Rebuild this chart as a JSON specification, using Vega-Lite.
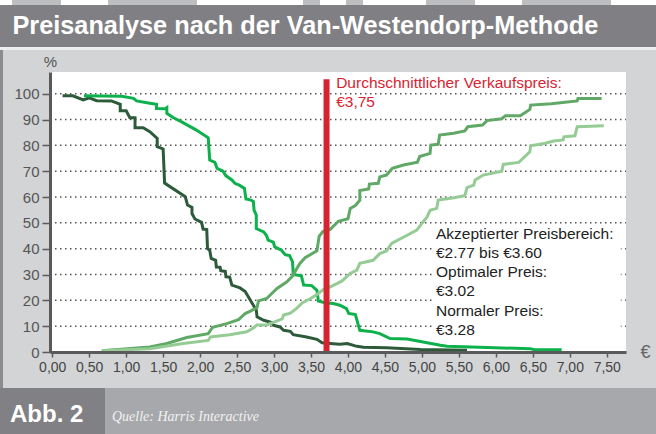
{
  "$schema": "https://vega.github.io/schema/vega-lite/v6.json",
  "padding": 0,
  "background": "white",
  "spacing": 0,
  "config": {
    "view": {"stroke": null},
    "font": "Liberation Sans",
    "concat": {"spacing": 0},
    "axis": {"labelFont": "Liberation Sans", "titleFont": "Liberation Sans"}
  },
  "data": {"values": [{}]},
  "datasets": {
    "curves": [
      {"s":"A","i":0,"x":0.14,"y":99.2},{"s":"A","i":1,"x":0.28,"y":99.2},{"s":"A","i":2,"x":0.42,"y":97.6},{"s":"A","i":3,"x":0.50,"y":98.4},{"s":"A","i":4,"x":0.60,"y":97.3},{"s":"A","i":5,"x":0.80,"y":97.2},{"s":"A","i":6,"x":0.92,"y":95.9},{"s":"A","i":7,"x":0.92,"y":93.4},{"s":"A","i":8,"x":1.00,"y":93.4},{"s":"A","i":9,"x":1.05,"y":90.7},{"s":"A","i":10,"x":1.12,"y":90.7},{"s":"A","i":11,"x":1.12,"y":86.8},{"s":"A","i":12,"x":1.23,"y":86.8},{"s":"A","i":13,"x":1.32,"y":85.3},{"s":"A","i":14,"x":1.42,"y":82.7},{"s":"A","i":15,"x":1.42,"y":79.5},{"s":"A","i":16,"x":1.50,"y":78.6},{"s":"A","i":17,"x":1.52,"y":65.4},{"s":"A","i":18,"x":1.80,"y":60.1},{"s":"A","i":19,"x":1.83,"y":56.9},{"s":"A","i":20,"x":1.89,"y":56.0},{"s":"A","i":21,"x":1.89,"y":53.6},{"s":"A","i":22,"x":1.93,"y":51.5},{"s":"A","i":23,"x":2.02,"y":50.2},{"s":"A","i":24,"x":2.04,"y":47.6},{"s":"A","i":25,"x":2.09,"y":47.4},{"s":"A","i":26,"x":2.10,"y":40.1},{"s":"A","i":27,"x":2.13,"y":39.4},{"s":"A","i":28,"x":2.15,"y":36.2},{"s":"A","i":29,"x":2.21,"y":35.5},{"s":"A","i":30,"x":2.22,"y":32.9},{"s":"A","i":31,"x":2.27,"y":32.8},{"s":"A","i":32,"x":2.28,"y":31.5},{"s":"A","i":33,"x":2.34,"y":31.2},{"s":"A","i":34,"x":2.35,"y":29.1},{"s":"A","i":35,"x":2.40,"y":29.0},{"s":"A","i":36,"x":2.43,"y":25.9},{"s":"A","i":37,"x":2.47,"y":25.5},{"s":"A","i":38,"x":2.54,"y":24.8},{"s":"A","i":39,"x":2.61,"y":23.4},{"s":"A","i":40,"x":2.68,"y":20.0},{"s":"A","i":41,"x":2.72,"y":18.1},{"s":"A","i":42,"x":2.76,"y":16.2},{"s":"A","i":43,"x":2.77,"y":13.6},{"s":"A","i":44,"x":2.86,"y":12.3},{"s":"A","i":45,"x":2.97,"y":11.4},{"s":"A","i":46,"x":2.99,"y":10.4},{"s":"A","i":47,"x":3.08,"y":9.7},{"s":"A","i":48,"x":3.13,"y":8.4},{"s":"A","i":49,"x":3.22,"y":8.0},{"s":"A","i":50,"x":3.26,"y":6.7},{"s":"A","i":51,"x":3.44,"y":5.8},{"s":"A","i":52,"x":3.58,"y":4.9},{"s":"A","i":53,"x":3.65,"y":3.6},{"s":"A","i":54,"x":3.76,"y":3.3},{"s":"A","i":55,"x":3.89,"y":3.0},{"s":"A","i":56,"x":3.99,"y":3.3},{"s":"A","i":57,"x":4.12,"y":2.2},{"s":"A","i":58,"x":4.21,"y":1.8},{"s":"A","i":59,"x":4.52,"y":1.6},{"s":"A","i":60,"x":4.98,"y":1.0},{"s":"A","i":61,"x":5.61,"y":0.7},
      {"s":"B","i":0,"x":0.43,"y":99.2},{"s":"B","i":1,"x":0.94,"y":99.0},{"s":"B","i":2,"x":1.10,"y":98.2},{"s":"B","i":3,"x":1.14,"y":97.2},{"s":"B","i":4,"x":1.32,"y":96.3},{"s":"B","i":5,"x":1.41,"y":95.9},{"s":"B","i":6,"x":1.41,"y":94.3},{"s":"B","i":7,"x":1.53,"y":94.2},{"s":"B","i":8,"x":1.55,"y":94.6},{"s":"B","i":9,"x":1.55,"y":92.4},{"s":"B","i":10,"x":1.64,"y":90.7},{"s":"B","i":11,"x":1.75,"y":89.1},{"s":"B","i":12,"x":1.95,"y":85.9},{"s":"B","i":13,"x":2.11,"y":82.9},{"s":"B","i":14,"x":2.13,"y":74.3},{"s":"B","i":15,"x":2.20,"y":73.4},{"s":"B","i":16,"x":2.23,"y":71.1},{"s":"B","i":17,"x":2.31,"y":70.0},{"s":"B","i":18,"x":2.35,"y":68.2},{"s":"B","i":19,"x":2.43,"y":66.6},{"s":"B","i":20,"x":2.47,"y":65.3},{"s":"B","i":21,"x":2.53,"y":64.6},{"s":"B","i":22,"x":2.60,"y":63.3},{"s":"B","i":23,"x":2.62,"y":59.2},{"s":"B","i":24,"x":2.68,"y":58.9},{"s":"B","i":25,"x":2.72,"y":58.3},{"s":"B","i":26,"x":2.73,"y":54.9},{"s":"B","i":27,"x":2.76,"y":53.0},{"s":"B","i":28,"x":2.76,"y":47.8},{"s":"B","i":29,"x":2.86,"y":46.5},{"s":"B","i":30,"x":2.90,"y":45.0},{"s":"B","i":31,"x":2.92,"y":43.3},{"s":"B","i":32,"x":2.99,"y":42.5},{"s":"B","i":33,"x":3.01,"y":40.7},{"s":"B","i":34,"x":3.10,"y":39.4},{"s":"B","i":35,"x":3.15,"y":37.7},{"s":"B","i":36,"x":3.21,"y":37.3},{"s":"B","i":37,"x":3.25,"y":34.9},{"s":"B","i":38,"x":3.26,"y":30.0},{"s":"B","i":39,"x":3.37,"y":29.5},{"s":"B","i":40,"x":3.40,"y":25.9},{"s":"B","i":41,"x":3.51,"y":25.7},{"s":"B","i":42,"x":3.58,"y":23.9},{"s":"B","i":43,"x":3.60,"y":19.7},{"s":"B","i":44,"x":3.69,"y":19.1},{"s":"B","i":45,"x":3.80,"y":18.8},{"s":"B","i":46,"x":3.89,"y":18.1},{"s":"B","i":47,"x":3.98,"y":16.8},{"s":"B","i":48,"x":4.01,"y":14.9},{"s":"B","i":49,"x":4.10,"y":14.5},{"s":"B","i":50,"x":4.16,"y":8.4},{"s":"B","i":51,"x":4.34,"y":7.8},{"s":"B","i":52,"x":4.43,"y":7.1},{"s":"B","i":53,"x":4.57,"y":5.2},{"s":"B","i":54,"x":4.80,"y":5.0},{"s":"B","i":55,"x":4.98,"y":4.1},{"s":"B","i":56,"x":5.25,"y":2.6},{"s":"B","i":57,"x":5.34,"y":2.2},{"s":"B","i":58,"x":5.88,"y":1.7},{"s":"B","i":59,"x":6.46,"y":1.3},{"s":"B","i":60,"x":6.51,"y":1.0},{"s":"B","i":61,"x":6.89,"y":0.9},
      {"s":"C","i":0,"x":0.67,"y":0.5},{"s":"C","i":1,"x":1.32,"y":1.9},{"s":"C","i":2,"x":1.55,"y":3.3},{"s":"C","i":3,"x":1.82,"y":5.6},{"s":"C","i":4,"x":2.11,"y":7.1},{"s":"C","i":5,"x":2.17,"y":9.6},{"s":"C","i":6,"x":2.36,"y":11.0},{"s":"C","i":7,"x":2.52,"y":12.5},{"s":"C","i":8,"x":2.61,"y":14.9},{"s":"C","i":9,"x":2.68,"y":15.8},{"s":"C","i":10,"x":2.77,"y":17.2},{"s":"C","i":11,"x":2.79,"y":19.8},{"s":"C","i":12,"x":2.90,"y":20.7},{"s":"C","i":13,"x":3.04,"y":24.6},{"s":"C","i":14,"x":3.17,"y":27.1},{"s":"C","i":15,"x":3.26,"y":29.7},{"s":"C","i":16,"x":3.28,"y":31.0},{"s":"C","i":17,"x":3.35,"y":34.3},{"s":"C","i":18,"x":3.42,"y":36.5},{"s":"C","i":19,"x":3.58,"y":39.2},{"s":"C","i":20,"x":3.61,"y":44.8},{"s":"C","i":21,"x":3.66,"y":46.6},{"s":"C","i":22,"x":3.76,"y":47.5},{"s":"C","i":23,"x":3.87,"y":50.6},{"s":"C","i":24,"x":4.00,"y":51.6},{"s":"C","i":25,"x":4.03,"y":55.6},{"s":"C","i":26,"x":4.10,"y":56.7},{"s":"C","i":27,"x":4.16,"y":58.8},{"s":"C","i":28,"x":4.16,"y":62.5},{"s":"C","i":29,"x":4.28,"y":63.1},{"s":"C","i":30,"x":4.29,"y":65.0},{"s":"C","i":31,"x":4.41,"y":65.3},{"s":"C","i":32,"x":4.43,"y":67.8},{"s":"C","i":33,"x":4.52,"y":68.5},{"s":"C","i":34,"x":4.60,"y":71.1},{"s":"C","i":35,"x":4.75,"y":72.4},{"s":"C","i":36,"x":4.94,"y":73.5},{"s":"C","i":37,"x":4.97,"y":75.7},{"s":"C","i":38,"x":5.11,"y":76.9},{"s":"C","i":39,"x":5.12,"y":80.1},{"s":"C","i":40,"x":5.22,"y":80.4},{"s":"C","i":41,"x":5.24,"y":84.0},{"s":"C","i":42,"x":5.43,"y":84.7},{"s":"C","i":43,"x":5.58,"y":85.6},{"s":"C","i":44,"x":5.62,"y":87.2},{"s":"C","i":45,"x":5.82,"y":87.9},{"s":"C","i":46,"x":5.88,"y":89.6},{"s":"C","i":47,"x":6.08,"y":90.3},{"s":"C","i":48,"x":6.13,"y":91.5},{"s":"C","i":49,"x":6.33,"y":91.5},{"s":"C","i":50,"x":6.46,"y":93.9},{"s":"C","i":51,"x":6.47,"y":95.6},{"s":"C","i":52,"x":6.75,"y":96.1},{"s":"C","i":53,"x":7.10,"y":97.2},{"s":"C","i":54,"x":7.11,"y":98.1},{"s":"C","i":55,"x":7.43,"y":98.1},
      {"s":"D","i":0,"x":0.67,"y":0.5},{"s":"D","i":1,"x":1.32,"y":1.3},{"s":"D","i":2,"x":1.77,"y":3.3},{"s":"D","i":3,"x":2.11,"y":4.5},{"s":"D","i":4,"x":2.14,"y":5.8},{"s":"D","i":5,"x":2.40,"y":6.7},{"s":"D","i":6,"x":2.63,"y":7.8},{"s":"D","i":7,"x":2.72,"y":9.3},{"s":"D","i":8,"x":2.77,"y":10.5},{"s":"D","i":9,"x":2.90,"y":10.5},{"s":"D","i":10,"x":2.99,"y":11.5},{"s":"D","i":11,"x":3.11,"y":12.8},{"s":"D","i":12,"x":3.13,"y":14.3},{"s":"D","i":13,"x":3.22,"y":15.0},{"s":"D","i":14,"x":3.31,"y":17.0},{"s":"D","i":15,"x":3.38,"y":19.0},{"s":"D","i":16,"x":3.50,"y":20.8},{"s":"D","i":17,"x":3.60,"y":22.6},{"s":"D","i":18,"x":3.67,"y":24.3},{"s":"D","i":19,"x":3.76,"y":25.2},{"s":"D","i":20,"x":3.85,"y":26.5},{"s":"D","i":21,"x":3.92,"y":27.5},{"s":"D","i":22,"x":4.03,"y":30.4},{"s":"D","i":23,"x":4.12,"y":31.7},{"s":"D","i":24,"x":4.16,"y":34.3},{"s":"D","i":25,"x":4.34,"y":35.5},{"s":"D","i":26,"x":4.43,"y":38.1},{"s":"D","i":27,"x":4.52,"y":39.1},{"s":"D","i":28,"x":4.59,"y":42.0},{"s":"D","i":29,"x":4.80,"y":45.2},{"s":"D","i":30,"x":4.93,"y":47.2},{"s":"D","i":31,"x":5.00,"y":49.8},{"s":"D","i":32,"x":5.07,"y":52.3},{"s":"D","i":33,"x":5.11,"y":54.9},{"s":"D","i":34,"x":5.20,"y":55.6},{"s":"D","i":35,"x":5.22,"y":58.8},{"s":"D","i":36,"x":5.43,"y":59.7},{"s":"D","i":37,"x":5.58,"y":60.5},{"s":"D","i":38,"x":5.61,"y":63.6},{"s":"D","i":39,"x":5.70,"y":64.6},{"s":"D","i":40,"x":5.72,"y":66.6},{"s":"D","i":41,"x":5.83,"y":68.5},{"s":"D","i":42,"x":6.08,"y":70.0},{"s":"D","i":43,"x":6.10,"y":72.6},{"s":"D","i":44,"x":6.31,"y":73.4},{"s":"D","i":45,"x":6.46,"y":77.5},{"s":"D","i":46,"x":6.47,"y":79.8},{"s":"D","i":47,"x":6.67,"y":80.8},{"s":"D","i":48,"x":6.78,"y":81.7},{"s":"D","i":49,"x":6.91,"y":82.1},{"s":"D","i":50,"x":6.92,"y":83.3},{"s":"D","i":51,"x":7.07,"y":83.7},{"s":"D","i":52,"x":7.10,"y":87.2},{"s":"D","i":53,"x":7.46,"y":87.6}
    ]
  },
  "vconcat": [
    {
      "hconcat": [
        {"width": 12, "height": 5, "mark": {"type": "rect", "color": "white"}},
        {"width": 49, "height": 5, "mark": {"type": "rect", "color": "#bdbec0"}},
        {"width": 47, "height": 5, "mark": {"type": "rect", "color": "white"}},
        {"width": 89, "height": 5, "mark": {"type": "rect", "color": "#bdbec0"}},
        {"width": 106, "height": 5, "mark": {"type": "rect", "color": "white"}},
        {"width": 17, "height": 5, "mark": {"type": "rect", "color": "#bdbec0"}},
        {"width": 26, "height": 5, "mark": {"type": "rect", "color": "white"}},
        {"width": 17, "height": 5, "mark": {"type": "rect", "color": "#bdbec0"}},
        {"width": 63, "height": 5, "mark": {"type": "rect", "color": "white"}},
        {"width": 49, "height": 5, "mark": {"type": "rect", "color": "#bdbec0"}},
        {"width": 47, "height": 5, "mark": {"type": "rect", "color": "white"}},
        {"width": 89, "height": 5, "mark": {"type": "rect", "color": "#bdbec0"}},
        {"width": 45, "height": 5, "mark": {"type": "rect", "color": "white"}}
      ],
      "spacing": 0
    },
    {
      "width": 656,
      "height": 42,
      "view": {"fill": "#808084", "stroke": null},
      "data": {"values": [{"t": "Preisanalyse nach der Van-Westendorp-Methode"}]},
      "mark": {"type": "text", "align": "left", "baseline": "alphabetic", "fontSize": 25.3, "fontWeight": "bold", "color": "white", "font": "Liberation Sans"},
      "encoding": {
        "text": {"field": "t"},
        "x": {"datum": 0.019, "type": "quantitative", "scale": {"domain": [0, 1]}, "axis": null},
        "y": {"datum": 0.31, "type": "quantitative", "scale": {"domain": [0, 1]}, "axis": null}
      }
    },
    {"width": 656, "height": 3, "mark": {"type": "rect", "color": "#eeeeef"}},
    {
      "hconcat": [
        {"width": 3, "height": 338, "mark": {"type": "rect", "color": "#8b8c8f"}},
        {
          "width": 653,
          "height": 338,
          "view": {"fill": "#d3d4d6", "stroke": null},
          "layer": [
            {
              "mark": {"type": "rect", "color": "white"},
              "encoding": {
                "x": {
                  "datum": -0.03, "type": "quantitative",
                  "scale": {"domain": [-0.03, 7.76], "range": [47, 623], "nice": false, "zero": false}
                },
                "x2": {"datum": 7.76},
                "y": {
                  "datum": 0, "type": "quantitative",
                  "scale": {"domain": [0, 108.4], "range": [302, 22], "nice": false, "zero": false}
                },
                "y2": {"datum": 108.4}
              }
            },
            {
              "data": {"values": [{"g": 10}, {"g": 20}, {"g": 30}, {"g": 40}, {"g": 50}, {"g": 60}, {"g": 70}, {"g": 80}, {"g": 90}, {"g": 100}]},
              "mark": {"type": "rule", "color": "#555", "strokeWidth": 1.5, "strokeDash": [1.5, 3.5]},
              "encoding": {
                "y": {"field": "g", "type": "quantitative"},
                "x": {"datum": -0.03, "type": "quantitative"},
                "x2": {"datum": 7.76}
              }
            },
            {
              "mark": {"type": "rect", "color": "white"},
              "encoding": {
                "x": {"datum": 5.14, "type": "quantitative"},
                "x2": {"datum": 7.69},
                "y": {"datum": 3.4, "type": "quantitative"},
                "y2": {"datum": 47.5}
              }
            },
            {
              "data": {"name": "curves"},
              "mark": {"type": "line", "strokeWidth": 3, "strokeJoin": "miter"},
              "encoding": {
                "x": {
                  "field": "x", "type": "quantitative",
                  "axis": {
                    "orient": "bottom", "offset": -36, "zindex": 1,
                    "values": [0, 0.5, 1, 1.5, 2, 2.5, 3, 3.5, 4, 4.5, 5, 5.5, 6, 6.5, 7, 7.5],
                    "tickCount": 16,
                    "labelExpr": "replace(format(datum.value, '.2f'), '.', ',')",
                    "labelFontSize": 14, "labelColor": "#444", "labelPadding": 3, "labelFlush": false, "labelOverlap": false,
                    "domainColor": "#5a5a5a", "domainWidth": 3,
                    "tickColor": "#5a5a5a", "tickWidth": 1.5, "tickSize": 5,
                    "grid": false,
                    "title": "€", "titleX": 642, "titleY": 0, "titleAlign": "center", "titleBaseline": "middle",
                    "titleFontSize": 18, "titleFontWeight": "normal", "titleColor": "#666"
                  }
                },
                "y": {
                  "field": "y", "type": "quantitative",
                  "axis": {
                    "orient": "left", "offset": -47, "zindex": 1,
                    "values": [0, 10, 20, 30, 40, 50, 60, 70, 80, 90, 100],
                    "tickCount": 11,
                    "labelFontSize": 15, "labelColor": "#555", "labelPadding": 3, "labelOverlap": false, "labelFlush": false,
                    "domainColor": "#5a5a5a", "domainWidth": 3,
                    "tickColor": "#5a5a5a", "tickWidth": 1.5, "tickSize": 8,
                    "grid": false,
                    "title": "%", "titleAngle": 0, "titleX": 0, "titleY": 16, "titleAlign": "center", "titleBaseline": "alphabetic",
                    "titleFontSize": 15, "titleFontWeight": "normal", "titleColor": "#555"
                  }
                },
                "color": {"field": "s", "type": "nominal", "legend": null,
                  "scale": {"domain": ["A", "B", "C", "D"], "range": ["#2d5b39", "#0db14b", "#5fa865", "#95cb95"]}},
                "order": {"field": "i", "type": "quantitative"}
              }
            },
            {
              "mark": {"type": "rule", "color": "#d7232f", "strokeWidth": 6},
              "encoding": {
                "x": {"datum": 3.71, "type": "quantitative"},
                "y": {"datum": 0, "type": "quantitative"},
                "y2": {"datum": 105.6}
              }
            },
            {
              "data": {"values": [{"label": "Durchschnittlicher Verkaufspreis:\n€3,75"}]},
              "mark": {"type": "text", "align": "left", "baseline": "alphabetic", "fontSize": 15.5, "color": "#d7232f", "lineBreak": "\n", "lineHeight": 19},
              "encoding": {
                "text": {"field": "label"},
                "x": {"datum": 3.84, "type": "quantitative"},
                "y": {"datum": 102.1, "type": "quantitative"}
              }
            },
            {
              "data": {"values": [{"label": "Akzeptierter Preisbereich:\n€2.77 bis €3.60\nOptimaler Preis:\n€3.02\nNormaler Preis:\n€3.28"}]},
              "mark": {"type": "text", "align": "left", "baseline": "alphabetic", "fontSize": 15.5, "color": "#222", "lineBreak": "\n", "lineHeight": 19.1},
              "encoding": {
                "text": {"field": "label"},
                "x": {"datum": 5.19, "type": "quantitative"},
                "y": {"datum": 43.7, "type": "quantitative"}
              }
            }
          ]
        }
      ],
      "spacing": 0
    },
    {
      "hconcat": [
        {
          "width": 105, "height": 46,
          "view": {"fill": "#808085", "stroke": null},
          "data": {"values": [{"t": "Abb. 2"}]},
          "mark": {"type": "text", "align": "left", "baseline": "alphabetic", "fontSize": 24, "fontWeight": "bold", "color": "white"},
          "encoding": {
            "text": {"field": "t"},
            "x": {"datum": 0.095, "type": "quantitative", "scale": {"domain": [0, 1]}, "axis": null},
            "y": {"datum": 0.26, "type": "quantitative", "scale": {"domain": [0, 1]}, "axis": null}
          }
        },
        {
          "width": 551, "height": 46,
          "view": {"fill": "#a7a8ab", "stroke": null},
          "data": {"values": [{"t": "Quelle: Harris Interactive"}]},
          "mark": {"type": "text", "align": "left", "baseline": "alphabetic", "fontSize": 14, "fontStyle": "italic", "font": "Liberation Serif", "color": "#f2f2f2"},
          "encoding": {
            "text": {"field": "t"},
            "x": {"datum": 0.0127, "type": "quantitative", "scale": {"domain": [0, 1]}, "axis": null},
            "y": {"datum": 0.29, "type": "quantitative", "scale": {"domain": [0, 1]}, "axis": null}
          }
        }
      ],
      "spacing": 0
    }
  ]
}
